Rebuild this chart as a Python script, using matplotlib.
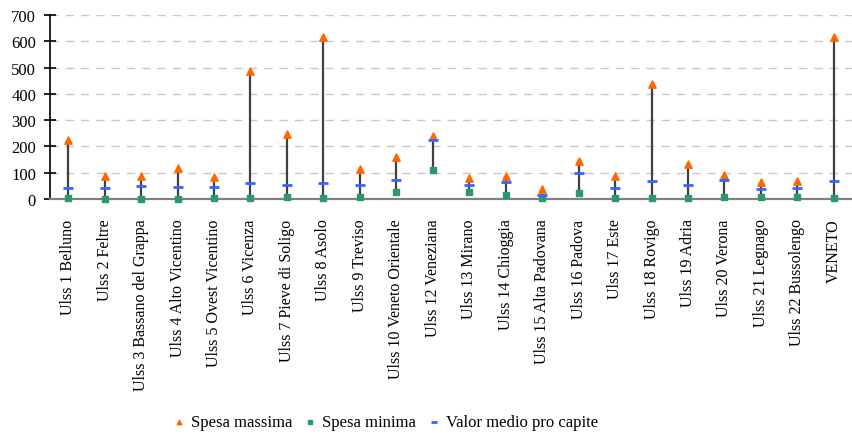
import numpy as np
import matplotlib.pyplot as plt

plt.rcParams['font.family'] = ['Liberation Serif', 'DejaVu Serif']

# Dati per ULSS
ulss = ['Ulss 1 Belluno', 'Ulss 2 Feltre', 'Ulss 3 Bassano del Grappa',
        'Ulss 4 Alto Vicentino', 'Ulss 5 Ovest Vicentino', 'Ulss 6 Vicenza',
        'Ulss 7 Pieve di Soligo', 'Ulss 8 Asolo', 'Ulss 9 Treviso',
        'Ulss 10 Veneto Orientale', 'Ulss 12 Veneziana', 'Ulss 13 Mirano',
        'Ulss 14 Chioggia', 'Ulss 15 Alta Padovana', 'Ulss 16 Padova',
        'Ulss 17 Este', 'Ulss 18 Rovigo', 'Ulss 19 Adria', 'Ulss 20 Verona',
        'Ulss 21 Legnago', 'Ulss 22 Bussolengo', 'VENETO']
spesa_max = [226, 89, 89, 118, 85, 486, 249, 617, 115, 160, 241, 79,
             87, 38, 146, 86, 439, 132, 93, 65, 68, 617]
spesa_min = [2, 1, 1, 1, 4, 5, 9, 2, 8, 28, 110, 28,
             14, 4, 22, 2, 2, 2, 9, 6, 9, 2]
valor_medio = [40, 43, 51, 47, 47, 60, 55, 62, 55, 72, 226, 55,
               66, 16, 100, 41, 70, 55, 72, 37, 41, 70]

x = np.arange(len(ulss))

fig = plt.figure(figsize=(8.52, 4.35), dpi=100)
ax = fig.add_axes([50/852, 1 - 200/435, 802/852, 184/435])

# griglia
ax.yaxis.grid(True, color='#c8c8c8', linestyle=(0, (6, 5)), linewidth=1)
ax.set_axisbelow(True)

# linee alto-basso
ax.vlines(x, spesa_min, spesa_max, color='#404040', linewidth=1.6, zorder=2)

ax.scatter(x, spesa_max, marker='^', s=28, color='#ff6600', zorder=4,
           clip_on=False, label='Spesa massima')
ax.scatter(x, spesa_min, marker='s', s=24, color='#2e9968', zorder=4,
           clip_on=False, label='Spesa minima')
ax.scatter(x, valor_medio, marker='_', s=50, color='#3366ff', linewidths=2,
           zorder=5, clip_on=False, label='Valor medio pro capite')

ax.set_xlim(-0.5, len(ulss) - 0.5)
ax.set_ylim(0, 700)
ax.set_yticks(range(0, 701, 100))
ax.set_xticks(x)
ax.set_xticklabels(ulss, rotation=90, fontsize=11.5)
ax.tick_params(axis='x', length=0, pad=14)
ax.tick_params(axis='y', direction='inout', length=8, width=1.2, labelsize=12,
               pad=6)

for s in ['top', 'right']:
    ax.spines[s].set_visible(False)
ax.spines['left'].set_color('black')
ax.spines['left'].set_linewidth(1.2)
ax.spines['bottom'].set_color('#808080')
ax.spines['bottom'].set_linewidth(1.6)
ax.spines['bottom'].set_zorder(3)

fig.legend(loc='center', bbox_to_anchor=(0.45, 1 - 423/435),
           ncol=3, frameon=False, fontsize=12, handletextpad=0.1,
           handlelength=1.2, columnspacing=0.5, markerscale=0.6)

fig.savefig('out.png', dpi=100)
